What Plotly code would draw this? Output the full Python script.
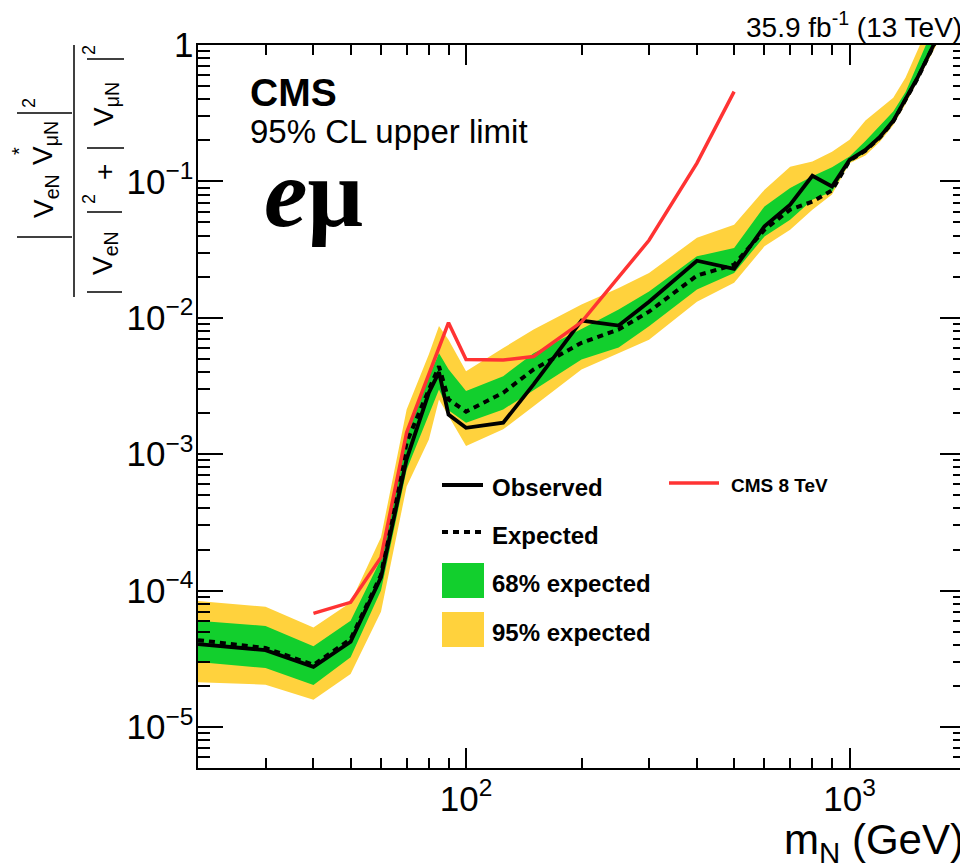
import math
import plotly.graph_objects as go

# ---------------- data ----------------
mass = [20, 30, 40, 50, 60, 70, 80, 85, 90, 100, 125, 150, 200, 250, 300, 400,
        500, 600, 700, 800, 900, 1000, 1100, 1200, 1300, 1400, 1500, 1700]

observed = [4.05e-5, 3.66e-5, 2.76e-5, 4.21e-5, 1.25e-4, 9.2e-4, 2.83e-3, 4.0e-3,
            1.95e-3, 1.56e-3, 1.70e-3, 3.25e-3, 9.55e-3, 8.77e-3, 1.31e-2, 2.62e-2,
            2.28e-2, 4.68e-2, 6.75e-2, 0.110, 9.18e-2, 0.144, 0.170, 0.212, 0.278,
            0.40, 0.568, 1.16]

expected = [4.33e-5, 3.79e-5, 2.85e-5, 4.4e-5, 1.3e-4, 1.22e-3, 2.98e-3, 4.4e-3,
            2.52e-3, 2.05e-3, 2.82e-3, 4.18e-3, 6.55e-3, 8.2e-3, 1.11e-2, 2.04e-2,
            2.45e-2, 4.42e-2, 6.2e-2, 7.1e-2, 8.6e-2, 0.142, 0.168, 0.21, 0.275,
            0.395, 0.56, 1.15]

band68_lo = [2.99e-5, 2.70e-5, 2.03e-5, 3.24e-5, 1.0e-4, 7.7e-4, 1.96e-3, 2.98e-3,
             2.1e-3, 1.70e-3, 2.13e-3, 2.94e-3, 4.94e-3, 6.05e-3, 8.67e-3, 1.61e-2,
             2.13e-2, 3.95e-2, 5.24e-2, 7.33e-2, 8.4e-2, 0.138, 0.163, 0.205, 0.27,
             0.39, 0.555, 1.13]
band68_hi = [6.0e-5, 5.5e-5, 3.9e-5, 6.0e-5, 1.7e-4, 1.52e-3, 3.7e-3, 5.5e-3,
             4.2e-3, 2.9e-3, 3.73e-3, 5.5e-3, 8.26e-3, 1.15e-2, 1.56e-2, 2.82e-2,
             3.25e-2, 6.55e-2, 8.93e-2, 0.109, 0.127, 0.152, 0.198, 0.257, 0.325,
             0.453, 0.70, 1.6]
band95_lo = [2.13e-5, 2.04e-5, 1.58e-5, 2.44e-5, 7.0e-5, 5.8e-4, 1.28e-3, 2.52e-3,
             1.9e-3, 1.15e-3, 1.52e-3, 2.25e-3, 4.18e-3, 5.48e-3, 6.9e-3, 1.31e-2,
             1.81e-2, 3.34e-2, 4.42e-2, 6.2e-2, 8.0e-2, 0.136, 0.155, 0.195, 0.258,
             0.37, 0.53, 1.05]
band95_hi = [8.4e-5, 7.6e-5, 5.37e-5, 8.18e-5, 2.46e-4, 2.13e-3, 5.4e-3, 8.7e-3,
             6.9e-3, 4.06e-3, 6.0e-3, 8.2e-3, 1.25e-2, 1.65e-2, 2.13e-2, 3.86e-2,
             4.81e-2, 8.68e-2, 0.128, 0.14, 0.165, 0.202, 0.279, 0.343, 0.41,
             0.577, 0.9, 2.0]

cms8_mass = [40, 50, 60, 70, 90, 100, 125, 150, 200, 250, 300, 400, 500]
cms8_limit = [6.8e-5, 8.2e-5, 1.75e-4, 1.44e-3, 9.2e-3, 4.94e-3, 4.9e-3, 5.2e-3,
              9.3e-3, 2.0e-2, 3.7e-2, 0.136, 0.455]

x_range = [20, 2000]
y_range = [5e-6, 1]

legend_labels = ["Observed", "Expected", "68% expected", "95% expected", "CMS 8 TeV"]

# ---------------- style ----------------
# page body has an 8px margin, so the figure is 8px smaller and offset
OFF = 8
W, H = 968 - OFF, 866 - OFF
ML, MR, MT, MB = 198 - OFF, 3, 45 - OFF, 98
PW, PH = W - ML - MR, H - MT - MB
FONT = "Liberation Sans"
GREEN = "#12CF2D"
YELLOW = "#FFD23D"
RED = "#FF3333"


def P(px, py):
    """window pixel -> paper coordinates"""
    return (px - OFF - ML) / PW, (H - MB - (py - OFF)) / PH


fig = go.Figure()

fig.add_trace(go.Scatter(x=mass + mass[::-1], y=band95_hi + band95_lo[::-1],
                         fill="toself", fillcolor=YELLOW, line=dict(width=0),
                         mode="lines", hoverinfo="skip", showlegend=False))
fig.add_trace(go.Scatter(x=mass + mass[::-1], y=band68_hi + band68_lo[::-1],
                         fill="toself", fillcolor=GREEN, line=dict(width=0),
                         mode="lines", hoverinfo="skip", showlegend=False))
fig.add_trace(go.Scatter(x=mass, y=expected, mode="lines",
                         line=dict(color="black", width=4, dash="6px,5px"),
                         showlegend=False))
fig.add_trace(go.Scatter(x=mass, y=observed, mode="lines",
                         line=dict(color="black", width=3.8), showlegend=False))
fig.add_trace(go.Scatter(x=cms8_mass, y=cms8_limit, mode="lines",
                         line=dict(color=RED, width=3.5), showlegend=False))
# invisible trace so the mirrored (top/right) tick axes are drawn
fig.add_trace(go.Scatter(x=x_range, y=y_range, xaxis="x2", yaxis="y2",
                         mode="markers", marker=dict(opacity=0),
                         hoverinfo="skip", showlegend=False))

xr = [math.log10(v) for v in x_range]
yr = [math.log10(v) for v in y_range]

base = dict(type="log", showgrid=False, zeroline=False, automargin=False,
            ticks="inside", tickcolor="black", tickwidth=1.5, dtick=1,
            exponentformat="power")
xminor = dict(ticks="inside", ticklen=10, dtick="D1", tickcolor="black",
              tickwidth=1.5, showgrid=False)
yminor = dict(ticks="inside", ticklen=12, dtick="D1", tickcolor="black",
              tickwidth=1.5, showgrid=False)

fig.update_layout(
    xaxis=dict(range=xr, ticklen=20, minor=xminor, showline=True, linecolor="black",
               linewidth=2, mirror=True, ticklabelstandoff=0,
               tickfont=dict(family=FONT, size=28, color="black"), **base),
    yaxis=dict(range=yr, ticklen=25, minor=yminor, showline=True, linecolor="black",
               linewidth=2, mirror=True, ticklabelstandoff=-3,
               tickfont=dict(family=FONT, size=28, color="black"), **base),
    xaxis2=dict(range=xr, ticklen=20, minor=xminor, overlaying="x", side="top",
                anchor="y2", showticklabels=False, showline=False, **base),
    yaxis2=dict(range=yr, ticklen=25, minor=yminor, overlaying="y", side="right",
                anchor="x2", showticklabels=False, showline=False, **base),
)

ann = []
shapes = []


def text(px, py, s, size, xanchor="left", yanchor="middle", angle=0,
         family=FONT, bold=False):
    x, y = P(px, py)
    if bold:
        s = "<b>" + s + "</b>"
    ann.append(dict(x=x, y=y, xref="paper", yref="paper", text=s, showarrow=False,
                    xanchor=xanchor, yanchor=yanchor, textangle=angle,
                    font=dict(family=family, size=size, color="black")))


def hline(px0, px1, py, color="black", width=1.5, dash=None):
    x0, y0 = P(px0, py)
    x1, _ = P(px1, py)
    shapes.append(dict(type="line", xref="paper", yref="paper", x0=x0, x1=x1,
                       y0=y0, y1=y0, line=dict(color=color, width=width, dash=dash)))


def vline(px, py0, py1, width=1.5):
    x0, y0 = P(px, py0)
    _, y1 = P(px, py1)
    shapes.append(dict(type="line", xref="paper", yref="paper", x0=x0, x1=x0,
                       y0=y0, y1=y1, line=dict(color="black", width=width)))


def rect(px0, py0, px1, py1, color):
    x0, y0 = P(px0, py0)
    x1, y1 = P(px1, py1)
    shapes.append(dict(type="rect", xref="paper", yref="paper", x0=x0, x1=x1,
                       y0=y0, y1=y1, line=dict(width=0), fillcolor=color))


# header texts
text(964, 25, "35.9 fb<sup>-1</sup> (13 TeV)", 28, xanchor="right")
text(248, 92, "CMS", 39, bold=True)
text(248, 131, "95% CL upper limit", 33)
text(262, 193, "<b><i>e</i>μ</b>", 98, family="Liberation Serif")

# x title
text(966, 842, "m<sub>N</sub> (GeV)", 42, xanchor="right")

# y title (fraction, rotated)
vline(74, 45, 297, width=1.5)
# numerator
hline(17, 72, 237)
hline(17, 72, 113)
text(45, 196, "V<sub>eN</sub>", 28, xanchor="center", angle=-90)
text(45, 143, "V<sub>μN</sub>", 28, xanchor="center", angle=-90)
text(19, 151, "*", 20, xanchor="center", angle=-90)
text(29, 103, "2", 18, xanchor="center", angle=-90)
# denominator
hline(87, 122, 292)
hline(87, 122, 212)
hline(87, 124, 148)
hline(87, 124, 59)
text(105, 253, "V<sub>eN</sub>", 28, xanchor="center", angle=-90)
text(105, 104, "V<sub>μN</sub>", 28, xanchor="center", angle=-90)
text(89, 199, "2", 18, xanchor="center", angle=-90)
text(89, 50, "2", 18, xanchor="center", angle=-90)
text(104, 172, "+", 28, xanchor="center", angle=-90)

# legend
hline(442, 483, 485, width=4)
text(490, 487, legend_labels[0], 24, bold=True)
hline(442, 483, 532, width=4, dash="6px,5px")
text(490, 535, legend_labels[1], 24, bold=True)
rect(442, 563, 484, 598, GREEN)
text(490, 583, legend_labels[2], 24, bold=True)
rect(442, 612, 484, 647, YELLOW)
text(490, 632, legend_labels[3], 24, bold=True)
hline(669, 719, 483, color=RED, width=3.5)
text(729, 485, legend_labels[4], 19, bold=True)

fig.update_layout(width=W, height=H, margin=dict(l=ML, r=MR, t=MT, b=MB),
                  plot_bgcolor="white", paper_bgcolor="white",
                  annotations=ann, shapes=shapes, showlegend=False)

fig.write_html("out.html")
